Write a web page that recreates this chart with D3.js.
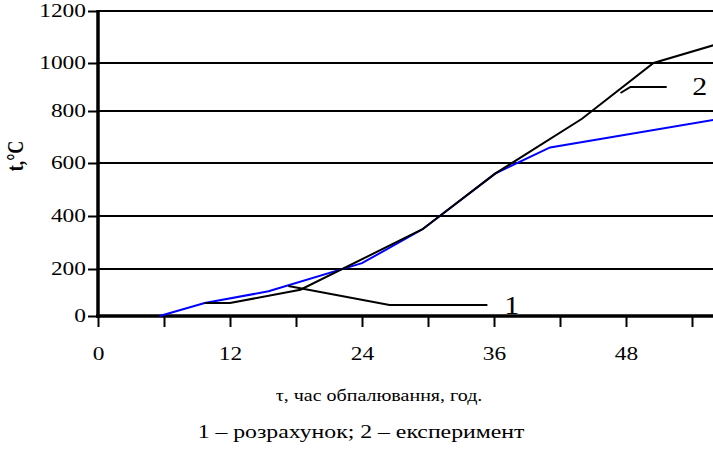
<!DOCTYPE html>
<html><head><meta charset="utf-8">
<script src="https://cdn.jsdelivr.net/npm/d3@7"></script>
<style>html,body{margin:0;padding:0;background:#fff;overflow:hidden}</style>
</head><body>
<svg id="c" width="713" height="451"></svg>
<script>
// ---- data ----
const yTicks = [0, 200, 400, 600, 800, 1000, 1200];
const xTicks = [0, 6, 12, 18, 24, 30, 36, 42, 48, 54, 60];
const xLabels = [0, 12, 24, 36, 48];
const calcTau  = [5.6, 9.7, 15.5, 24, 29.5, 36.1, 41.1, 56];
const calcTemp = [0, 55, 105, 222, 350, 560, 660, 766];
const expTau   = [9.7, 12, 18.4, 29.5, 36.1, 44, 50.5, 56];
const expTemp  = [55, 55, 112, 350, 560, 770, 1000, 1069];
const lead1Tau  = [17.3, 26.5, 35.4];
const lead1Temp = [128, 47, 47];
const lead2Tau  = [47.5, 48.4, 51.7];
const lead2Temp = [875, 900, 900];
const label1 = {tau: 37.6, temp: 47, text: "1"};
const label2 = {tau: 54.7, temp: 900, text: "2"};
const xTitle = "τ, час обпалювання, год.";
const yTitle = "t,°C";
const caption = "1 – розрахунок; 2 – експеримент";

// ---- layout ----
const FONT = "'Liberation Serif','Times New Roman',serif";
const SX = 1.3;
const W = 713;
const svg = d3.select("#c");
const x = d3.scaleLinear().domain([0, 60]).range([98, 758]);
const y = d3.scaleLinear().domain(yTicks).range([316, 269, 216, 163, 111, 63, 11]);

function stext(px, py, txt, size, anchor, opts = {}) {
  const sc = opts.rotate ? `scale(1,${opts.sx || SX})` : `scale(${opts.sx || SX},1)`;
  return svg.append("text")
    .attr("transform", `translate(${px},${py})${opts.rotate ? ` rotate(${opts.rotate})` : ""} ${sc}`)
    .attr("text-anchor", anchor)
    .attr("font-family", FONT)
    .attr("font-size", size)
    .attr("font-weight", opts.bold ? "bold" : "normal")
    .attr("fill", "#000")
    .text(txt);
}

// gridlines
svg.append("g").selectAll("line").data(yTicks.filter(d => d > 0)).join("line")
  .attr("x1", x(0)).attr("x2", W)
  .attr("y1", d => y(d)).attr("y2", d => y(d))
  .attr("stroke", "#000").attr("stroke-width", 2);

// y axis
const gy = svg.append("g").attr("transform", `translate(${x(0)},0)`)
  .call(d3.axisLeft(y).tickValues(yTicks).tickSize(10).tickPadding(2).tickFormat(d3.format("d")));
gy.select(".domain").remove();
gy.selectAll(".tick line").attr("stroke", "#000").attr("stroke-width", 2);
gy.selectAll(".tick text")
  .attr("font-family", FONT).attr("font-size", 18).attr("fill", "#000")
  .attr("x", -12 / SX).attr("dy", "0.33em")
  .attr("transform", `scale(${SX},1)`);

// x axis
const gx = svg.append("g").attr("transform", `translate(0,${y(0)})`)
  .call(d3.axisBottom(x).tickValues(xTicks).tickSize(11)
    .tickFormat(d => xLabels.includes(d) ? d : ""));
gx.select(".domain").remove();
gx.selectAll(".tick line").attr("stroke", "#000").attr("stroke-width", 2);
gx.selectAll(".tick text")
  .attr("font-family", FONT).attr("font-size", 18).attr("fill", "#000")
  .attr("y", 44).attr("dy", 0)
  .attr("transform", `scale(${SX},1)`)
  .attr("x", 0);

// axis lines (thick)
svg.append("line").attr("x1", x(0)).attr("x2", x(0)).attr("y1", y(1200) - 1).attr("y2", y(0) + 2)
  .attr("stroke", "#000").attr("stroke-width", 3.5);
svg.append("line").attr("x1", x(0) - 2).attr("x2", W).attr("y1", y(0)).attr("y2", y(0))
  .attr("stroke", "#000").attr("stroke-width", 3.5);

// lines
const line = d3.line().x(d => x(d[0])).y(d => y(d[1]));
const calc = calcTau.map((t, i) => [t, calcTemp[i]]);
const exp = expTau.map((t, i) => [t, expTemp[i]]);
svg.append("path").attr("d", line(calc)).attr("fill", "none").attr("stroke", "#0000ff").attr("stroke-width", 2);
svg.append("path").attr("d", line(exp)).attr("fill", "none").attr("stroke", "#000").attr("stroke-width", 2);

// leaders
[[lead1Tau, lead1Temp], [lead2Tau, lead2Temp]].forEach(([ts, vs]) => {
  svg.append("path").attr("d", line(ts.map((t, i) => [t, vs[i]])))
    .attr("fill", "none").attr("stroke", "#000").attr("stroke-width", 2);
});
stext(x(label1.tau), y(label1.temp) + 9, label1.text, 26, "middle", {sx: 1.15});
stext(x(label2.tau), y(label2.temp) + 8, label2.text, 26, "middle", {sx: 1.15});

// titles
stext(379, 401, xTitle, 16, "middle", {sx: 1.25});
stext(361, 438, caption, 19, "middle", {sx: 1.25});
stext(23, 156, yTitle, 18, "middle", {rotate: -90, bold: true, sx: 1.3});
</script>
</body></html>
